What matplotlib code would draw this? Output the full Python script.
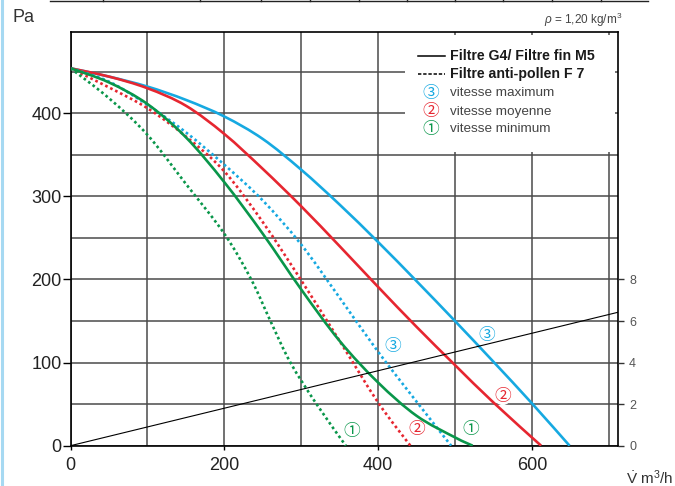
import matplotlib
matplotlib.use('Agg')
import matplotlib.pyplot as plt
from matplotlib import font_manager
from matplotlib.patches import Rectangle, PathPatch
from matplotlib.path import Path
from matplotlib.lines import Line2D

names = {f.name for f in font_manager.fontManager.ttflist}
NARROW = 'Liberation Sans Narrow' in names

plt.rcParams['font.family'] = ['Liberation Sans', 'DejaVu Sans']
plt.rcParams['mathtext.fontset'] = 'custom'
plt.rcParams['mathtext.rm'] = 'Liberation Sans'
plt.rcParams['mathtext.it'] = 'Liberation Sans:italic'

# ---------------- data ----------------
# Filtre G4 / Filtre fin M5 (solid)
max_g4_flow = [0, 50, 100, 150, 200, 250, 300, 350, 400, 450, 500, 550, 600, 649]
max_g4_pa   = [454, 444, 432, 416, 396, 369, 332, 290, 245, 198, 150, 101, 51, 0]

moy_g4_flow = [0, 50, 100, 150, 200, 250, 300, 350, 400, 450, 500, 550, 612]
moy_g4_pa   = [454, 444, 430, 409, 375, 333, 288, 240, 191, 143, 97, 52, 0]

min_g4_flow = [0, 50, 100, 150, 200, 250, 300, 350, 400, 450, 500, 523]
min_g4_pa   = [454, 437, 411, 371, 317, 255, 188, 126, 76, 36, 10, 0]

# Filtre anti-pollen F7 (dotted)
max_f7_flow = [0, 50, 100, 150, 200, 250, 300, 350, 400, 450, 495]
max_f7_pa   = [454, 438, 410, 377, 338, 295, 242, 178, 113, 53, 0]

moy_f7_flow = [0, 50, 100, 150, 200, 250, 300, 350, 400, 442]
moy_f7_pa   = [454, 431, 406, 372, 330, 269, 199, 126, 52, 0]

min_f7_flow = [0, 50, 100, 150, 200, 235, 260, 286, 320, 358]
min_f7_pa   = [454, 418, 374, 315, 255, 200, 150, 100, 50, 0]

# power line (right axis)
power_flow = [0, 712]
power_val  = [0, 6.42]

x_ticks = [0, 200, 400, 600]
y_ticks = [0, 100, 200, 300, 400]
right_ticks = [0, 2, 4, 6, 8]

BLUE = '#16a9e1'
RED = '#e62630'
GREEN = '#09964a'

CIRC = {1: '\u2460', 2: '\u2461', 3: '\u2462'}

# curve labels
label_flow = [366, 450, 521, 419, 541, 562]
label_pa   = [17, 19, 20, 119, 132, 59]
label_num  = [1, 2, 1, 3, 3, 2]
label_col  = [GREEN, RED, GREEN, BLUE, BLUE, RED]


def smooth_path(xs, ys):
    """Catmull-Rom curve through the data points, as a matplotlib Path."""
    pts = list(zip(xs, ys))
    n = len(pts)
    verts = [pts[0]]
    codes = [Path.MOVETO]
    for i in range(n - 1):
        p0 = pts[i - 1] if i > 0 else pts[i]
        p1 = pts[i]
        p2 = pts[i + 1]
        p3 = pts[i + 2] if i + 2 < n else pts[i + 1]
        c1 = (p1[0] + (p2[0] - p0[0]) / 6, p1[1] + (p2[1] - p0[1]) / 6)
        c2 = (p2[0] - (p3[0] - p1[0]) / 6, p2[1] - (p3[1] - p1[1]) / 6)
        verts += [c1, c2, p2]
        codes += [Path.CURVE4] * 3
    return Path(verts, codes)


# ---------------- figure ----------------
W, H = 675, 486
fig = plt.figure(figsize=(W / 100, H / 100), dpi=100)
ax = fig.add_axes([70.5 / W, 1 - 445.7 / H, 547.5 / W, 414 / H])
ax.set_xlim(0, 712)
ax.set_ylim(0, 498)

ax.set_xticks(x_ticks)
ax.set_xticks([100, 300, 500, 700], minor=True)
ax.set_yticks(y_ticks)
ax.set_yticks([50, 150, 250, 350, 450], minor=True)
ax.grid(True, which='both', color='#4a4a4a', lw=1.1)
ax.set_axisbelow(True)
ax.tick_params(which='minor', length=0)
ax.tick_params(axis='x', which='major', direction='out', length=3, width=1,
               pad=5, labelsize=13, labelcolor='#222222')
ax.tick_params(axis='y', which='major', direction='out', length=5.5, width=1,
               pad=1, labelsize=13, labelcolor='#222222')
for s in ax.spines.values():
    s.set_color('black')
    s.set_linewidth(1.2)

dot = (0, (1, 1.1))
curves = [
    (max_g4_flow, max_g4_pa, BLUE, '-', 4),
    (moy_g4_flow, moy_g4_pa, RED, '-', 4),
    (min_g4_flow, min_g4_pa, GREEN, '-', 5),
    (max_f7_flow, max_f7_pa, BLUE, dot, 4),
    (moy_f7_flow, moy_f7_pa, RED, dot, 4),
    (min_f7_flow, min_f7_pa, GREEN, dot, 4),
]
for xs, ys, c, ls, z in curves:
    ax.add_patch(PathPatch(smooth_path(xs, ys), fill=False, ec=c, lw=1.9,
                           ls=ls, zorder=z, capstyle='butt'))

for fx, fy, n, c in zip(label_flow, label_pa, label_num, label_col):
    ax.text(fx, fy, CIRC[n], color=c, fontsize=12, ha='center', va='center',
            family=['Noto Sans CJK JP', 'DejaVu Sans'], zorder=6,
            bbox=dict(boxstyle='circle,pad=0.0', fc='white', ec='none'))

# legend box
ax.add_patch(Rectangle((0.611, 0.709), 0.3835, 0.283, transform=ax.transAxes,
                       fc='white', ec='none', zorder=2))
leg_fam = ['Liberation Sans Narrow', 'Liberation Sans'] if NARROW else ['Liberation Sans']
bsz = 12.2 if NARROW else 10.2
rsz = 11.6 if NARROW else 9.7
ax.plot([451.6, 486.6], [468.8, 468.8], color='black', lw=1.1, zorder=3)
ax.plot([451.6, 486.6], [446.8, 446.8], color='black', lw=1.1, ls=(0, (2.2, 1.2)), zorder=3)
ax.text(494, 468.8, 'Filtre G4/ Filtre fin M5', fontsize=bsz, fontweight='bold',
        family=leg_fam, va='center', ha='left', color='#1a1a1a', zorder=3)
ax.text(494, 446.8, 'Filtre anti-pollen F 7', fontsize=bsz, fontweight='bold',
        family=leg_fam, va='center', ha='left', color='#1a1a1a', zorder=3)
for yy, n, c, t in [(423.9, 3, BLUE, 'vitesse maximum'),
                    (401.8, 2, RED, 'vitesse moyenne'),
                    (380.6, 1, GREEN, 'vitesse minimum')]:
    ax.text(469, yy, CIRC[n], color=c, fontsize=12, ha='center', va='center',
            family=['Noto Sans CJK JP', 'DejaVu Sans'], zorder=3)
    ax.text(494, yy, t, fontsize=rsz, family=leg_fam, va='center', ha='left',
            color='#444444', zorder=3)

# right axis
ax2 = ax.twinx()
ax2.set_ylim(0, 498 / 25)
ax2.set_yticks(right_ticks)
ax2.tick_params(axis='y', direction='out', length=4, width=1, pad=4,
                labelsize=9, labelcolor='#555555', color='#333333')
for s in ax2.spines.values():
    s.set_visible(False)
ax2.plot(power_flow, power_val, color='black', lw=0.8, zorder=3)
ax.spines['right'].set_zorder(10)

# figure texts
fig.text(12 / W, 1 - 18 / H, 'Pa', fontsize=13, color='#333333', ha='left', va='center')
fig.text(622 / W, 1 - 20 / H, r'$\rho$ = 1,20 kg/m$^3$', fontsize=8.5, color='#444444',
         ha='right', va='center')
fig.text(673 / W, 1 - 478 / H, r'$\dot{\mathrm{V}}$ m$^3$/h', fontsize=11, color='#333333',
         ha='right', va='center')

# page decorations (cropped chart above, left page border)
fig.add_artist(Line2D([50 / W, 648 / W], [1 - 1.5 / H, 1 - 1.5 / H], color='#222222', lw=1.0))
for tx in [103, 200, 261, 310, 359, 407, 455, 503, 552, 601]:
    fig.add_artist(Line2D([tx / W, tx / W], [1 - 1.5 / H, 1.0], color='#222222', lw=1.0))
fig.add_artist(Line2D([2 / W, 2 / W], [0, 1], color='#a6d9f2', lw=2.2))

fig.savefig('out.png', dpi=100)
